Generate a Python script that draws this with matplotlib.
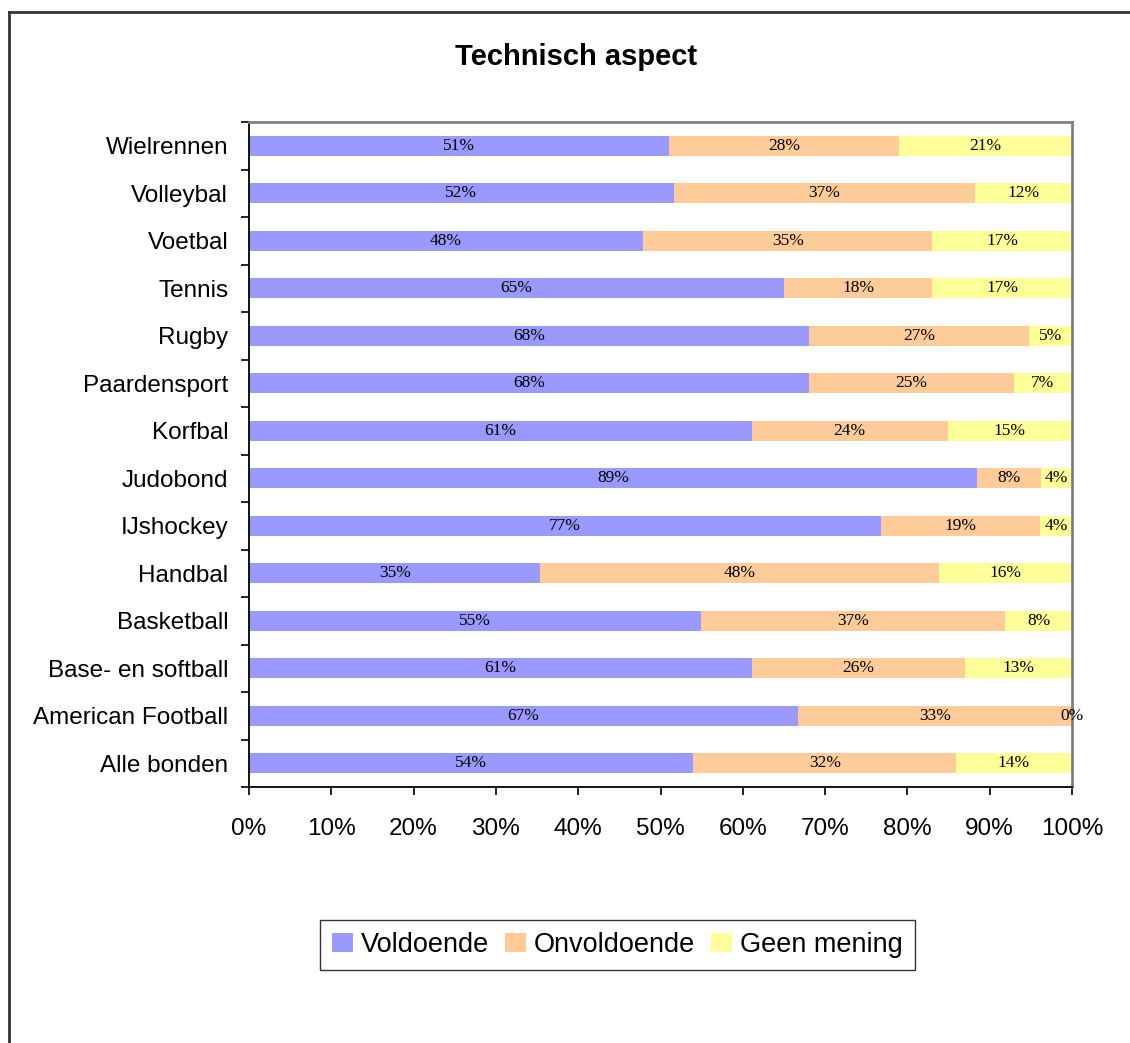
import math
import numpy as np
import matplotlib
matplotlib.use("Agg")
import matplotlib.pyplot as plt
from matplotlib.lines import Line2D

categories = ["Alle bonden", "American Football", "Base- en softball", "Basketball",
              "Handbal", "IJshockey", "Judobond", "Korfbal", "Paardensport",
              "Rugby", "Tennis", "Voetbal", "Volleybal", "Wielrennen"]
voldoende = [54.0, 66.7, 61.1, 54.9, 35.4, 76.8, 88.5, 61.1, 68.0, 68.0, 65.0, 47.9, 51.6, 51.0]
onvoldoende = [31.9, 33.3, 25.9, 37.0, 48.4, 19.3, 7.7, 23.8, 24.9, 26.8, 18.0, 35.1, 36.6, 28.0]
geen_mening = [14.1, 0.0, 13.0, 8.1, 16.2, 3.9, 3.8, 15.1, 7.1, 5.2, 17.0, 17.0, 11.8, 21.0]
series_names = ["Voldoende", "Onvoldoende", "Geen mening"]
colors = ["#9999FF", "#FFCC99", "#FFFF99"]
xtick_vals = list(range(0, 101, 10))

W, H = 1130, 1043
fig = plt.figure(figsize=(W / 100, H / 100), dpi=100)
ax = fig.add_axes([249 / W, 1 - 787 / H, (1072 - 249) / W, (787 - 122) / H])

y = np.arange(len(categories))
left = np.zeros(len(categories))
handles = []
for vals, name, col in zip([voldoende, onvoldoende, geen_mening], series_names, colors):
    vals = np.array(vals)
    b = ax.barh(y, vals, left=left, height=0.42, color=col, edgecolor="none", label=name)
    handles.append(b)
    for yi, l, v in zip(y, left, vals):
        ax.text(l + v / 2, yi, f"{math.floor(v + 0.5)}%", ha="center", va="center",
                fontsize=12.5, family="Liberation Serif", color="black")
    left = left + vals

ax.set_xlim(0, 100)
ax.set_ylim(-0.5, len(categories) - 0.5)
ax.set_xticks(xtick_vals)
ax.set_xticklabels([f"{v}%" for v in xtick_vals], fontsize=17.5, family="Liberation Sans")
ax.set_yticks(y)
ax.set_yticklabels(categories, fontsize=17.5, family="Liberation Sans")
ax.tick_params(axis="y", which="major", length=0, pad=15)
ax.set_yticks(np.arange(-0.5, len(categories)), minor=True)
ax.tick_params(axis="y", which="minor", length=6, width=1.2, direction="out")
ax.tick_params(axis="x", which="major", length=6, width=1.2, direction="out", pad=16)

for s in ["left", "bottom"]:
    ax.spines[s].set_color("black")
    ax.spines[s].set_linewidth(1.3)
for s in ["top", "right"]:
    ax.spines[s].set_color("#808080")
    ax.spines[s].set_linewidth(2)

fig.text(576 / W, 1 - 57 / H, "Technisch aspect", ha="center", va="center",
         fontsize=21, fontweight="bold", family="Liberation Sans")

leg = fig.legend(handles=handles, labels=series_names, loc="center",
                 bbox_to_anchor=(617.5 / W, 1 - 945 / H), ncol=3,
                 prop={"family": "Liberation Sans", "size": 19.5},
                 frameon=True, fancybox=False, edgecolor="black",
                 handlelength=0.75, handleheight=0.75, handletextpad=0.3,
                 columnspacing=0.6, borderpad=0.45)
leg.get_frame().set_linewidth(1.0)

# outer chart frame (only top and left visible)
fig.add_artist(Line2D([9 / W, 9 / W], [1 - 12 / H, 0], transform=fig.transFigure,
                      color="#333333", linewidth=2))
fig.add_artist(Line2D([9 / W, 1], [1 - 12 / H, 1 - 12 / H], transform=fig.transFigure,
                      color="#333333", linewidth=2))

fig.savefig("out.png", dpi=100)
